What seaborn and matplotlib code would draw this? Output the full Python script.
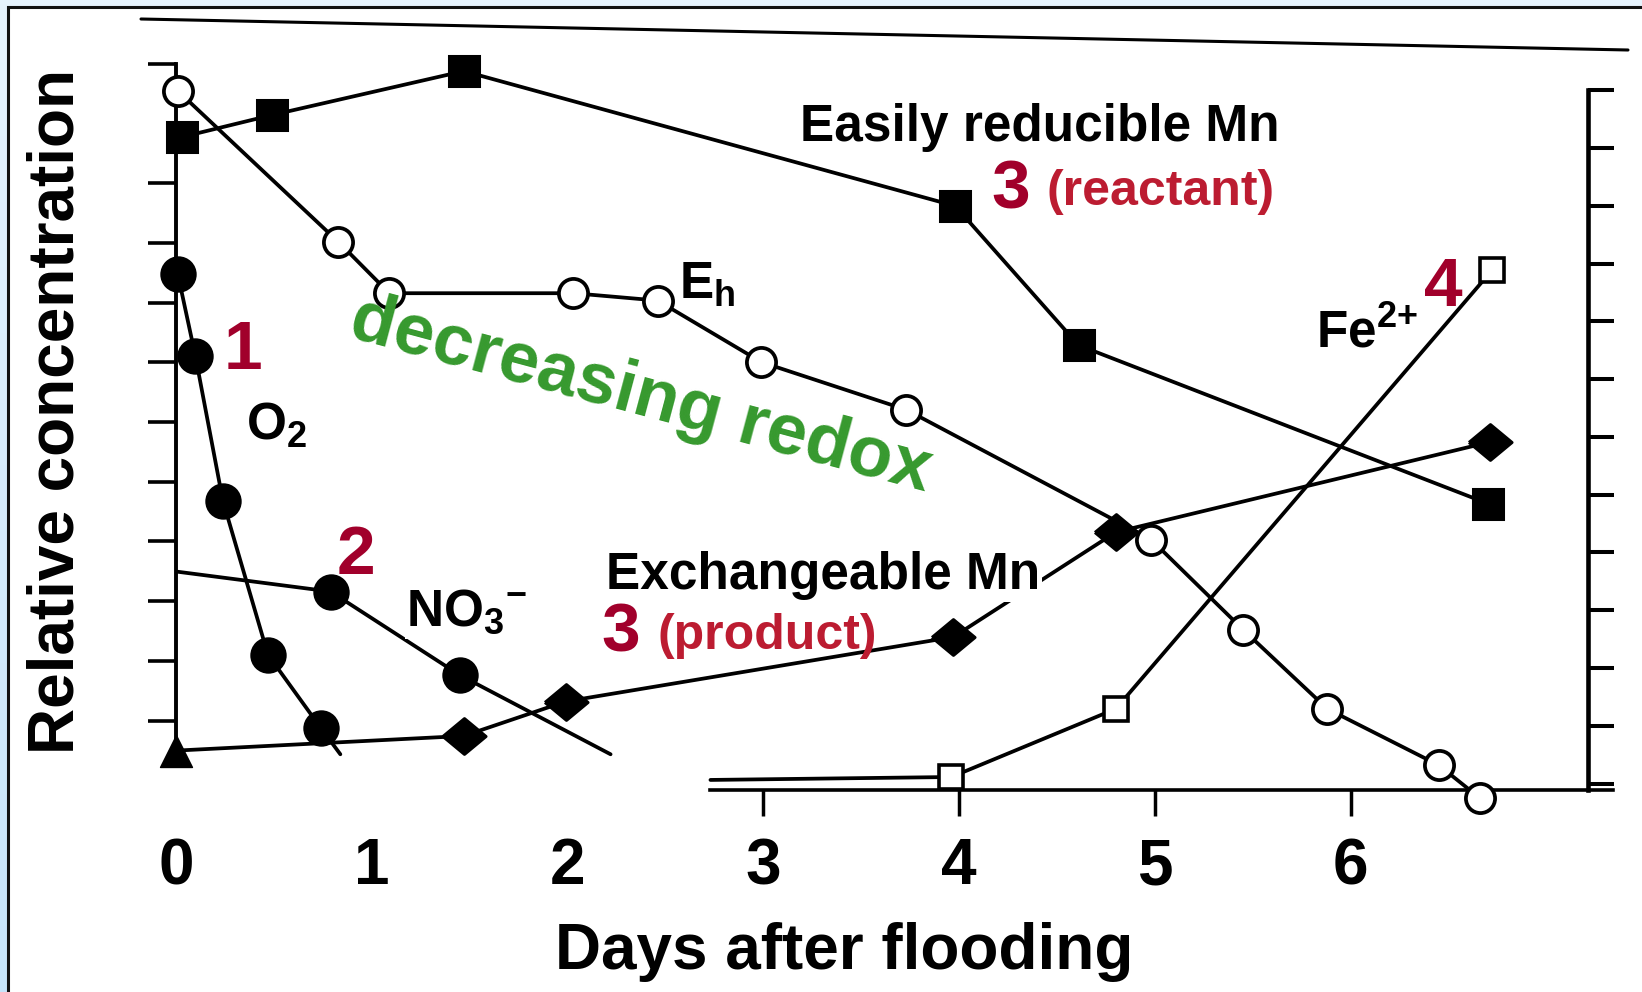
import numpy as np
import matplotlib
matplotlib.use("Agg")
import matplotlib.pyplot as plt
import seaborn as sns
from matplotlib.lines import Line2D
from matplotlib.patches import Rectangle

# ---- data: relative concentration (0-100 scale) vs. days after flooding ----
o2_days = [0.01, 0.10, 0.24, 0.47, 0.74, 0.84]
o2_conc = [72.6, 61.4, 41.7, 20.7, 10.7, 7.1]

no3_days = [0.01, 0.79, 1.45, 2.22]
no3_conc = [32.0, 29.3, 17.9, 7.1]

eh_days = [0.01, 0.83, 1.09, 2.03, 2.46, 2.99, 3.73, 4.98, 5.45, 5.88, 6.45, 6.66]
eh_conc = [97.6, 77.0, 70.0, 70.0, 69.0, 60.6, 54.1, 36.4, 24.1, 13.3, 5.6, 1.1]

red_mn_days = [0.03, 0.49, 1.47, 3.98, 4.61, 6.70]
red_mn_conc = [91.3, 94.3, 100.3, 81.9, 62.9, 41.3]

exch_mn_days = [0.0, 1.47, 1.99, 3.97, 4.80, 6.71]
exch_mn_conc = [7.6, 9.6, 14.3, 23.1, 37.4, 49.7]

fe_days = [2.73, 3.96, 4.80, 6.72]
fe_conc = [3.6, 4.0, 13.3, 73.1]

day_labels = ["0", "1", "2", "3", "4", "5", "6"]

# ---- style ----
sns.set_theme(style="white")
plt.rcParams["font.family"] = ["Liberation Sans", "DejaVu Sans"]
plt.rcParams["mathtext.fontset"] = "custom"
plt.rcParams["mathtext.bf"] = "Liberation Sans:bold"
plt.rcParams["mathtext.rm"] = "Liberation Sans:bold"
plt.rcParams["mathtext.default"] = "bf"

W, H = 1642, 992
fig = plt.figure(figsize=(W / 100, H / 100), dpi=100)

# light blue frame with a white panel
bg = fig.add_axes([0, 0, 1, 1], zorder=-10)
grad = np.linspace(0, 1, 256)[:, None]
bg.imshow(grad, aspect="auto", extent=[0, 1, 0, 1],
          cmap=matplotlib.colors.LinearSegmentedColormap.from_list(
              "frame", ["#c6e4fa", "#e6f3fd"]), origin="lower")
bg.axis("off")
fig.add_artist(Rectangle((8 / W, -0.05), 1.1, 1.05 - 7 / H,
                         transform=fig.transFigure, facecolor="white",
                         edgecolor="#111111", lw=2.2, zorder=-5))

ax = fig.add_axes([0, 0, 1, 1])
ax.patch.set_visible(False)
ax.set_xlim(-0.898, 7.487)
ax.set_ylim(-25.33, 110.0)

LW = 2.7
BLACK = "black"


def series(days, conc, marker, filled, ms, mark_idx, mew=2.2):
    sns.lineplot(x=days, y=conc, ax=ax, color=BLACK, lw=LW, sort=False,
                 estimator=None, marker=marker, markersize=ms,
                 markevery=mark_idx,
                 markerfacecolor=BLACK if filled else "white",
                 markeredgecolor=BLACK, markeredgewidth=mew,
                 clip_on=False, zorder=3)


diamond = [(-1, 0), (0, 0.83), (1, 0), (0, -0.83), (-1, 0)]

series(o2_days, o2_conc, "o", True, 24, list(range(len(o2_days) - 1)))
series(no3_days, no3_conc, "o", True, 24, [1, 2])
series(red_mn_days, red_mn_conc, "s", True, 22, list(range(len(red_mn_days))))
series(exch_mn_days, exch_mn_conc, diamond, True, 31,
       list(range(1, len(exch_mn_days))))
sns.scatterplot(x=exch_mn_days[:1], y=exch_mn_conc[:1], ax=ax, marker="^",
                s=23 ** 2, color=BLACK, edgecolor=BLACK, linewidth=1,
                clip_on=False, zorder=4)
series(fe_days, fe_conc, "s", False, 17, [1, 2, 3], mew=2.6)
series(eh_days, eh_conc, "o", False, 21, list(range(len(eh_days))), mew=2.7)

# ---- axes lines and ticks ----
ax.spines["top"].set_visible(False)
ax.spines["left"].set_position(("data", 0.0))
ax.spines["left"].set_bounds(7.1, 101.3)
ax.spines["left"].set_linewidth(2.8)
ax.spines["right"].set_visible(False)
ax.spines["bottom"].set_position(("data", 2.2))
ax.spines["bottom"].set_bounds(2.73, 7.34)
ax.spines["bottom"].set_linewidth(2.6)
for s in ("left", "bottom"):
    ax.spines[s].set_color(BLACK)

ax.set_yticks(np.r_[101.3, np.linspace(85.0, 11.7, 10)])
ax.set_yticklabels([])
ax.tick_params(axis="y", direction="out", length=20, width=2.6,
               color=BLACK, left=True, right=False)

ax.set_xticks(range(len(day_labels)))
ax.set_xticklabels(day_labels, fontsize=46, fontweight="bold")
ax.tick_params(axis="x", direction="out", length=19, width=2.5,
               color=BLACK, labelcolor=BLACK, pad=15, bottom=True)
for t in ax.xaxis.get_major_ticks()[:3]:
    t.tick1line.set_visible(False)

axr = ax.twinx()
axr.set_ylim(ax.get_ylim())
axr.patch.set_visible(False)
for s in ("top", "left", "bottom"):
    axr.spines[s].set_visible(False)
axr.spines["right"].set_position(("data", 7.21))
axr.spines["right"].set_bounds(2.2, 97.7)
axr.spines["right"].set_linewidth(3.3)
axr.spines["right"].set_color(BLACK)
axr.set_yticks(np.linspace(97.7, 3.1, 13))
axr.set_yticklabels([])
axr.tick_params(axis="y", direction="out", length=19, width=2.9,
                color=BLACK, right=True, left=False)

ax.set_xlabel("Days after flooding", fontsize=46, fontweight="bold",
              va="center", color=BLACK)
ax.xaxis.set_label_coords(0.514, 0.0403)
ax.set_ylabel("Relative concentration", fontsize=46, fontweight="bold",
              va="center", ha="center", color=BLACK)
ax.yaxis.set_label_coords(0.0345, 0.5857)

# top border line of the original figure frame
fig.add_artist(Line2D([141 / W, 1628 / W], [1 - 19 / H, 1 - 50 / H],
                      transform=fig.transFigure, color=BLACK, lw=2.2))

# ---- annotations ----
DARK_RED = "#a1002b"
RED = "#bc1c31"
GREEN = "#36992e"
lab = dict(fontsize=37, fontweight="bold", color=BLACK, zorder=6)
num = dict(fontsize=50, fontweight="bold", color=DARK_RED, zorder=6,
           ha="center", va="baseline")
role = dict(fontsize=36, fontweight="bold", color=RED, zorder=6,
            ha="center", va="baseline")
white_box = dict(facecolor="white", edgecolor="none", pad=1)

ax.text(4.414, 90.7, "Easily reducible Mn", ha="center", va="baseline", **lab)
ax.text(4.262, 81.6, "3", **num)
ax.text(5.03, 82.1, "(reactant)", **role)

ax.text(3.307, 29.6, "Exchangeable Mn", ha="center", va="baseline",
        bbox=white_box, **lab)
ax.text(2.273, 21.1, "3", **num)
ax.text(3.019, 21.4, "(product)", **role)

ax.text(0.342, 59.7, "1", **num)
ax.text(0.358, 50.0, r"O$_2$", ha="left", va="baseline", **lab)
ax.text(0.92, 31.7, "2", **num)
ax.text(1.176, 24.6, r"NO$_3$$^{-}$", ha="left", va="baseline",
        bbox=white_box, **lab)
ax.text(2.567, 69.3, r"E$_h$", ha="left", va="baseline", **lab)
ax.text(5.824, 62.6, r"Fe$^{2{+}}$", ha="left", va="baseline", **lab)
ax.text(6.471, 68.3, "4", **num)

ax.text(2.374, 56.0, "decreasing redox", fontsize=52, fontweight="bold",
        color=GREEN, rotation=-15, rotation_mode="anchor", ha="center",
        va="center", zorder=7)

fig.savefig("out.png", dpi=100)
